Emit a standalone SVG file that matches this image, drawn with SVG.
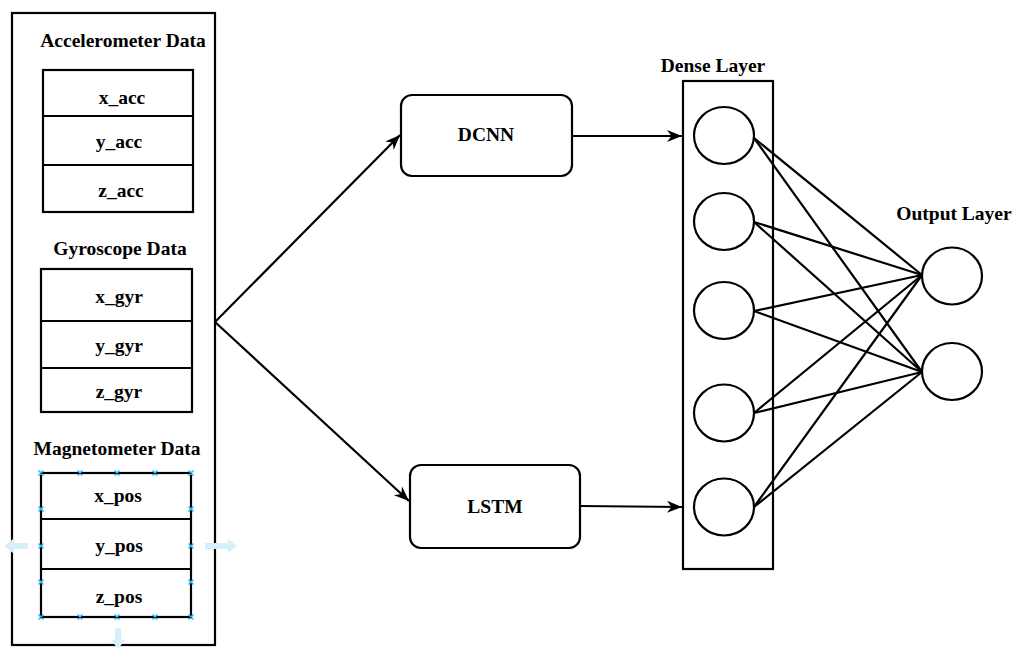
<svg xmlns="http://www.w3.org/2000/svg" width="1016" height="649" viewBox="0 0 1016 649">
<style>
.box{fill:#fff;stroke:#000;stroke-width:2.2}
.t{font-family:"Liberation Serif","Times New Roman",serif;font-weight:bold;font-size:19.5px;fill:#000;text-anchor:middle}
.ln{stroke:#000;stroke-width:2.2;fill:none}
.nn{fill:#fff;stroke:#000;stroke-width:2.2}
.h{stroke:#29b6f2;stroke-width:1.5}
.ha{fill:#d6effb}
</style>
<defs>
<marker id="arr" viewBox="0 0 10 10" refX="10" refY="5" markerWidth="15" markerHeight="15" markerUnits="userSpaceOnUse" orient="auto">
<path d="M0,1 L10,5 L0,9 L3,5 z" fill="#000"/>
</marker>
</defs>
<rect width="1016" height="649" fill="#fff"/>

<g id="inputs">
<rect class="box" x="12" y="13" width="203" height="632"/>
<text class="t" x="123" y="47">Accelerometer Data</text>
<g id="acc">
<rect class="box" x="43" y="70" width="150" height="142"/>
<line class="ln" x1="43" y1="116" x2="193" y2="116"/>
<line class="ln" x1="43" y1="165" x2="193" y2="165"/>
<text class="t" x="122" y="104">x_acc</text>
<text class="t" x="119" y="148">y_acc</text>
<text class="t" x="121" y="197">z_acc</text>
</g>
<text class="t" x="120" y="255">Gyroscope Data</text>
<g id="gyr">
<rect class="box" x="41" y="269" width="151" height="143"/>
<line class="ln" x1="41" y1="321" x2="192" y2="321"/>
<line class="ln" x1="41" y1="368" x2="192" y2="368"/>
<text class="t" x="119" y="303">x_gyr</text>
<text class="t" x="119" y="352">y_gyr</text>
<text class="t" x="119" y="398">z_gyr</text>
</g>
<text class="t" x="117" y="455">Magnetometer Data</text>
<g id="mag">
<path class="ha" d="M4,546 L13,539 L13,543 L28,543 L28,549 L13,549 L13,553 z"/>
<path class="ha" d="M237,546 L228,539 L228,543 L205,543 L205,549 L228,549 L228,553 z"/>
<path class="ha" d="M118,649 L111,640 L115,640 L115,628 L121,628 L121,640 L125,640 z"/>
<rect class="box" x="41" y="473" width="150" height="144"/>
<line class="ln" x1="41" y1="519" x2="191" y2="519"/>
<line class="ln" x1="41" y1="569" x2="191" y2="569"/>
<text class="t" x="118" y="502">x_pos</text>
<text class="t" x="119" y="552">y_pos</text>
<text class="t" x="119" y="603">z_pos</text>
<g class="h">
<path d="M38.5,470.5l5,5M43.5,470.5l-5,5 M77.5,470.5l5,5M82.5,470.5l-5,5 M114.5,470.5l5,5M119.5,470.5l-5,5 M152.5,470.5l5,5M157.5,470.5l-5,5 M188.5,470.5l5,5M193.5,470.5l-5,5"/>
<path d="M38.5,614.5l5,5M43.5,614.5l-5,5 M77.5,614.5l5,5M82.5,614.5l-5,5 M114.5,614.5l5,5M119.5,614.5l-5,5 M152.5,614.5l5,5M157.5,614.5l-5,5 M188.5,614.5l5,5M193.5,614.5l-5,5"/>
<path d="M38.5,506.5l5,5M43.5,506.5l-5,5 M38.5,543.5l5,5M43.5,543.5l-5,5 M38.5,579.5l5,5M43.5,579.5l-5,5"/>
<path d="M188.5,506.5l5,5M193.5,506.5l-5,5 M188.5,543.5l5,5M193.5,543.5l-5,5 M188.5,579.5l5,5M193.5,579.5l-5,5"/>
</g>
</g>
</g>

<g id="dcnn">
<rect class="box" x="401" y="95" width="171" height="81" rx="11"/>
<text class="t" x="486" y="141">DCNN</text>
</g>
<g id="lstm">
<rect class="box" x="410" y="465" width="170" height="83" rx="11"/>
<text class="t" x="495" y="513">LSTM</text>
</g>

<g id="dense">
<text class="t" x="713" y="72">Dense Layer</text>
<rect class="box" x="683" y="81" width="90" height="488"/>
<ellipse class="nn" cx="724" cy="135.5" rx="30" ry="28.5"/>
<ellipse class="nn" cx="724" cy="221.5" rx="30" ry="28.5"/>
<ellipse class="nn" cx="724" cy="310.5" rx="30" ry="28.5"/>
<ellipse class="nn" cx="724" cy="413" rx="30" ry="28.5"/>
<ellipse class="nn" cx="724" cy="507" rx="30" ry="28.5"/>
</g>

<g id="output">
<text class="t" x="954" y="220">Output Layer</text>
<ellipse class="nn" cx="952" cy="276" rx="30" ry="28.5"/>
<ellipse class="nn" cx="952" cy="371.5" rx="30" ry="28.5"/>
</g>

<g id="connectors">
<line class="ln" x1="215" y1="322" x2="400" y2="135" marker-end="url(#arr)"/>
<line class="ln" x1="215" y1="322" x2="409" y2="501" marker-end="url(#arr)"/>
<line class="ln" x1="572" y1="136" x2="682" y2="136" marker-end="url(#arr)"/>
<line class="ln" x1="580" y1="506" x2="682" y2="507" marker-end="url(#arr)"/>
<g class="ln">
<line x1="754" y1="138" x2="922" y2="275"/>
<line x1="754" y1="138" x2="922" y2="372"/>
<line x1="754" y1="222" x2="922" y2="275"/>
<line x1="754" y1="222" x2="922" y2="372"/>
<line x1="754" y1="311" x2="922" y2="275"/>
<line x1="754" y1="311" x2="922" y2="372"/>
<line x1="754" y1="413" x2="922" y2="275"/>
<line x1="754" y1="413" x2="922" y2="372"/>
<line x1="754" y1="507" x2="922" y2="275"/>
<line x1="754" y1="507" x2="922" y2="372"/>
</g>
</g>
</svg>
